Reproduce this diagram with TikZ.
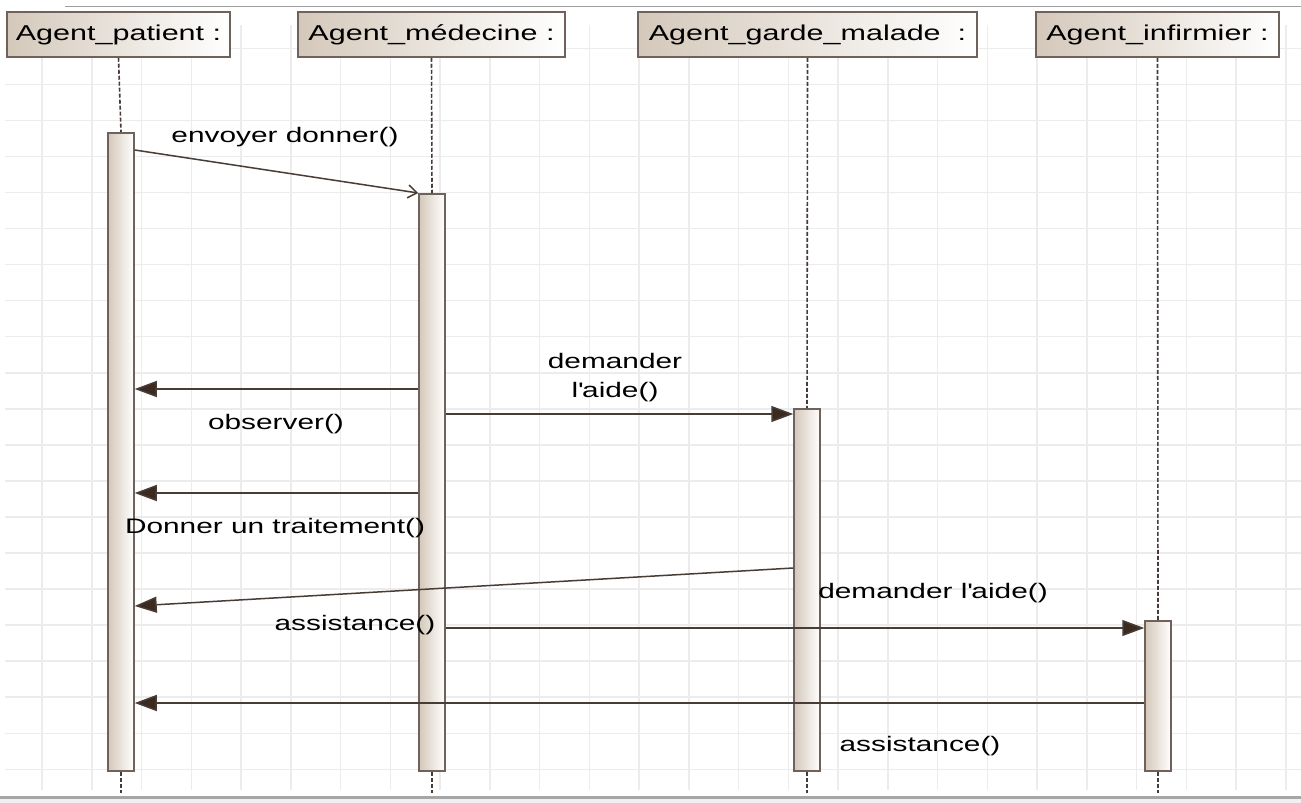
\documentclass[tikz,border=0pt]{standalone}
\usepackage{fontspec}
\setmainfont{Liberation Sans}[FakeStretch=1.42]
\usetikzlibrary{arrows.meta,positioning}

\definecolor{gridgray}{RGB}{236,236,236}
\definecolor{boxtan}{RGB}{212,200,186}
\definecolor{boxline}{RGB}{110,98,90}
\definecolor{msgline}{RGB}{72,60,54}
\definecolor{tipbrown}{RGB}{58,42,32}

\tikzset{
  head/.style={draw=boxline, line width=1.5pt, left color=boxtan, right color=white,
    minimum height=45, inner sep=0pt, font=\fontsize{21.5}{24}\selectfont},
  actbar/.style={draw=boxline, line width=1.5pt, left color=boxtan, right color=white,
    minimum width=26, inner sep=0pt, anchor=north},
  life/.style={msgline, line width=1.6pt, dash pattern=on 4pt off 2pt},
  msg/.style={msgline, line width=1.5pt, -{Triangle[length=22pt,width=16pt,fill=tipbrown]}},
  call/.style={msgline, line width=1.5pt, -{Straight Barb[length=9pt,width=13pt]}},
  lbl/.style={font=\fontsize{21}{29}\selectfont, inner sep=0pt}
}

\begin{document}
\begin{tikzpicture}[x=1pt, y=-1pt]
  \useasboundingbox (0,0) rectangle (1301,803);
  \fill[white] (0,0) rectangle (1301,803);

  % Grille
  \foreach \k in {0,...,25}
    \draw[gridgray, line width=1.5pt] ({42+49.75*\k},25) -- ({42+49.75*\k},790);
  \foreach \k in {0,...,20}
    \draw[gridgray, line width=1.5pt] (5,{48.3+36.05*\k}) -- (1301,{48.3+36.05*\k});

  % Bords
  \draw[black!38, line width=1.5pt] (65,6.5) -- (1301,6.5);
  \fill[black!6] (0,797) rectangle (1301,803);
  \draw[black!35, line width=3pt] (0,797) -- (1301,797);

  % Objets
  \node[head, minimum width=223] (pat) at (118.5,34.5) {Agent\_patient :};
  \node[head, minimum width=267] (med) at (431.5,34.5) {Agent\_médecine :};
  \node[head, minimum width=339] (gar) at (807.5,34.5) {Agent\_garde\_malade\ \ :};
  \node[head, minimum width=243] (inf) at (1157.5,34.5) {Agent\_infirmier :};

  % Barres d'activation
  \node[actbar, minimum height=638] (barP) at (121,132) {};
  \node[actbar, minimum height=577] (barM) at (432,193) {};
  \node[actbar, minimum height=362] (barG) at (807,408) {};
  \node[actbar, minimum height=150] (barI) at (1158,620) {};

  % Lignes de vie
  \draw[life] (pat.south) -- (barP.north);
  \draw[life] (med.south) -- (barM.north);
  \draw[life] (gar.south) -- (barG.north);
  \draw[life] (inf.south) -- (barI.north);
  \foreach \b in {barP,barM,barG,barI}
    \draw[life] (\b.south) -- ++(0,21);

  % Messages
  \draw[call] (barP.east |- 0,150) -- (barM.west |- 0,193);
  \draw[msg] (barM.west |- 0,389) -- (barP.east |- 0,389);
  \draw[msg] (barM.east |- 0,414) -- (barG.west |- 0,414);
  \draw[msg] (barM.west |- 0,493) -- (barP.east |- 0,493);
  \draw[msg] (barG.west |- 0,568) -- (barP.east |- 0,606);
  \draw[msg] (barM.east |- 0,628) -- (barI.west |- 0,628);
  \draw[msg] (barI.west |- 0,703) -- (barP.east |- 0,703);

  % Etiquettes
  \node[lbl] (l1) at (285,137) {envoyer donner()};
  \node[lbl] (l2) at (276,424) {observer()};
  \node[lbl, align=center] (l3) at (615,378) {demander\\l\textquotesingle aide()};
  \node[lbl] (l4) at (275,528) {Donner un traitement()};
  \node[lbl] (l5) at (933,593) {demander l\textquotesingle aide()};
  \node[lbl] (l6) at (355,625) {assistance()};
  \node[lbl] (l7) at (920,746) {assistance()};
\end{tikzpicture}
\end{document}
